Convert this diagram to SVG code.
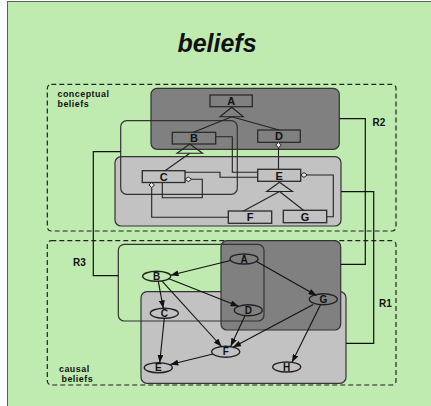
<svg xmlns="http://www.w3.org/2000/svg" width="431" height="406" viewBox="0 0 431 406">
  <style>
    .lbl { font-family: "Liberation Sans", Arial, sans-serif; font-weight: bold; fill: #111; }
    .dash { fill: none; stroke: #222; stroke-width: 1.2; stroke-dasharray: 5 3; }
    .dark { fill: #808080; stroke: #333; stroke-width: 1.2; }
    .light { fill: #c2c2c2; stroke: #333; stroke-width: 1.2; }
    .outline { fill: none; stroke: #333; stroke-width: 1.2; }
    .box { fill: none; stroke: #2a2a2a; stroke-width: 1.3; }
    .tri { fill: none; stroke: #222; stroke-width: 1.1; }
    .ln { fill: none; stroke: #222; stroke-width: 1.1; }
    .ext { fill: none; stroke: #111; stroke-width: 1.2; }
    .dia { fill: #e8e8e8; stroke: #222; stroke-width: 1; }
    .node { fill: none; stroke: #222; stroke-width: 1.4; }
    .arr { fill: none; stroke: #111; stroke-width: 1.1; marker-end: url(#head); }
    .bt { font-size: 11px; text-anchor: middle; }
    .nt { font-size: 10px; text-anchor: middle; }
    .area { font-size: 8.9px; letter-spacing: 0.5px; }
  </style>
  <defs>
    <marker id="head" viewBox="0 0 8 6" markerWidth="8" markerHeight="6" refX="8" refY="3" orient="auto" markerUnits="userSpaceOnUse">
      <path d="M0,0 L8,3 L0,6 z" fill="#111"/>
    </marker>
  </defs>

  <!-- page background -->
  <rect x="0" y="0" width="431" height="406" fill="#ffffff"/>
  <rect x="7.5" y="1.5" width="430" height="410" fill="#bfeab0" stroke="#556655" stroke-width="1"/>

  <text class="lbl" x="217" y="51.5" font-size="25" font-style="italic" text-anchor="middle">beliefs</text>

  <!-- conceptual beliefs area -->
  <g id="conceptual">
    <rect class="dash" x="47.3" y="84.3" width="348.7" height="146.7" rx="4"/>
    <text class="lbl area" x="57.5" y="97.3">conceptual</text>
    <text class="lbl area" x="57.5" y="107.3">beliefs</text>
    <rect class="dark" x="151" y="88.3" width="188.3" height="61" rx="6"/>
    <rect class="light" x="115" y="156.7" width="226" height="69.3" rx="6"/>
    <rect class="outline" x="120.7" y="120.7" width="116.6" height="73.6" rx="6"/>
  </g>

  <!-- causal beliefs area -->
  <g id="causal">
    <rect class="dash" x="47.3" y="240.7" width="348.7" height="144.3" rx="4"/>
    <text class="lbl area" x="59" y="372.2">causal</text>
    <text class="lbl area" x="61.5" y="382.2">beliefs</text>
    <rect class="light" x="141" y="291.7" width="205" height="91.6" rx="6"/>
    <rect class="dark" x="221" y="240.7" width="119.7" height="89.3" rx="6"/>
    <rect class="outline" x="118.3" y="244.3" width="145.7" height="76.7" rx="6"/>
  </g>

  <!-- class boxes -->
  <g id="cA"><rect class="box" x="210" y="95" width="42.3" height="11.7"/><text class="lbl bt" x="231.2" y="105">A</text></g>
  <g id="cB"><rect class="box" x="172.3" y="132.3" width="43.4" height="11.7"/><text class="lbl bt" x="194" y="142.3">B</text></g>
  <g id="cD"><rect class="box" x="257.7" y="130" width="42.6" height="12.3"/><text class="lbl bt" x="279" y="140.3">D</text></g>
  <g id="cC"><rect class="box" x="142.3" y="170.7" width="42.7" height="11.8"/><text class="lbl bt" x="163.7" y="180.8">C</text></g>
  <g id="cE"><rect class="box" x="257.7" y="169.3" width="43" height="12"/><text class="lbl bt" x="279.2" y="179.5">E</text></g>
  <g id="cF"><rect class="box" x="228.3" y="211" width="43.4" height="12.3"/><text class="lbl bt" x="250" y="221.3">F</text></g>
  <g id="cG"><rect class="box" x="283.3" y="210.3" width="43.4" height="12.4"/><text class="lbl bt" x="305" y="220.6">G</text></g>

  <!-- causal nodes -->
  <g id="nA"><ellipse class="node" cx="244" cy="259" rx="14" ry="5"/><text class="lbl nt" x="244" y="262.6">A</text></g>
  <g id="nB"><ellipse class="node" cx="156.7" cy="276.3" rx="14" ry="5"/><text class="lbl nt" x="156.7" y="279.9">B</text></g>
  <g id="nC"><ellipse class="node" cx="164.3" cy="313.3" rx="14" ry="5"/><text class="lbl nt" x="164.3" y="316.9">C</text></g>
  <g id="nD"><ellipse class="node" cx="248.3" cy="310.3" rx="14" ry="5.5"/><text class="lbl nt" x="248.3" y="313.9">D</text></g>
  <g id="nG"><ellipse class="node" cx="323.3" cy="299.3" rx="14" ry="5.5"/><text class="lbl nt" x="323.3" y="302.9">G</text></g>
  <g id="nF"><ellipse class="node" cx="225.7" cy="351.7" rx="14" ry="5.5"/><text class="lbl nt" x="225.7" y="355.3">F</text></g>
  <g id="nE"><ellipse class="node" cx="158.3" cy="367.7" rx="14" ry="5"/><text class="lbl nt" x="158.3" y="371.3">E</text></g>
  <g id="nH"><ellipse class="node" cx="286.7" cy="367" rx="14" ry="5"/><text class="lbl nt" x="286.7" y="370.6">H</text></g>

  <!-- connectors -->
  <g id="connectors">
    <!-- generalisations -->
    <polygon class="tri" points="231.7,107.3 220,116.7 243.3,116.7"/>
    <path class="ln" d="M231.7,116.7 L193.5,132.3 M231.7,116.7 L279,130"/>
    <polygon class="tri" points="189.8,144 177,153.3 202.6,153.3"/>
    <path class="ln" d="M189.8,153.3 L165,170.7"/>
    <polygon class="tri" points="279.5,182.3 266.7,191.5 292.5,191.5"/>
    <path class="ln" d="M279.5,191.5 L243.5,211 M279.5,191.5 L303.5,210.3"/>

    <!-- associations -->
    <path class="ln" d="M215.7,136.7 H232.3 V172.3 H257.7"/>
    <path class="ln" d="M185,172.3 H220 V177.3 H257.7"/>
    <path class="ln" d="M191.7,179.3 H202.3 V197.7 H162.3 V182.5"/>
    <polygon class="dia" points="185,179.3 188.3,177 191.7,179.3 188.3,181.6"/>
    <path class="ln" d="M151.7,187.5 V217.3 H228.3"/>
    <polygon class="dia" points="151.7,182.5 154.5,185 151.7,187.5 148.9,185"/>
    <path class="ln" d="M278.5,147.7 V169.3"/>
    <polygon class="dia" points="278.5,142.3 281.3,145 278.5,147.7 275.7,145"/>
    <path class="ln" d="M307.3,175 H333.3 V216.7 H326.7"/>
    <polygon class="dia" points="300.7,175 304,172.6 307.3,175 304,177.4"/>

    <!-- links between the two areas -->
    <path class="ext" d="M120.7,151.7 H93.3 V275.7 H118.3"/>
    <path class="ext" d="M339.3,118.7 H365.3 V264.3 H340.7"/>
    <path class="ext" d="M341,191.7 H373.7 V343.3 H346"/>
    <text class="lbl" x="372.5" y="125.7" font-size="10">R2</text>
    <text class="lbl" x="379" y="306.7" font-size="10">R1</text>
    <text class="lbl" x="73" y="265.7" font-size="10">R3</text>

    <!-- causal arrows -->
    <path class="arr" d="M230.5,260.5 L170.5,275.3"/>
    <path class="arr" d="M256.5,261.5 L316.5,295.5"/>
    <path class="arr" d="M168.3,278.6 L238.5,306.3"/>
    <path class="arr" d="M158.3,281.3 L163.3,308.3"/>
    <path class="arr" d="M162.3,281.3 L221.5,346.5"/>
    <path class="arr" d="M245,315.8 L230.7,346.3"/>
    <path class="arr" d="M313.3,304.5 L233,347.3"/>
    <path class="arr" d="M320.5,304.8 L292,362.3"/>
    <path class="arr" d="M164.3,318.3 L159.7,362.7"/>
    <path class="arr" d="M213,354 L170.3,364.5"/>
  </g>
</svg>
